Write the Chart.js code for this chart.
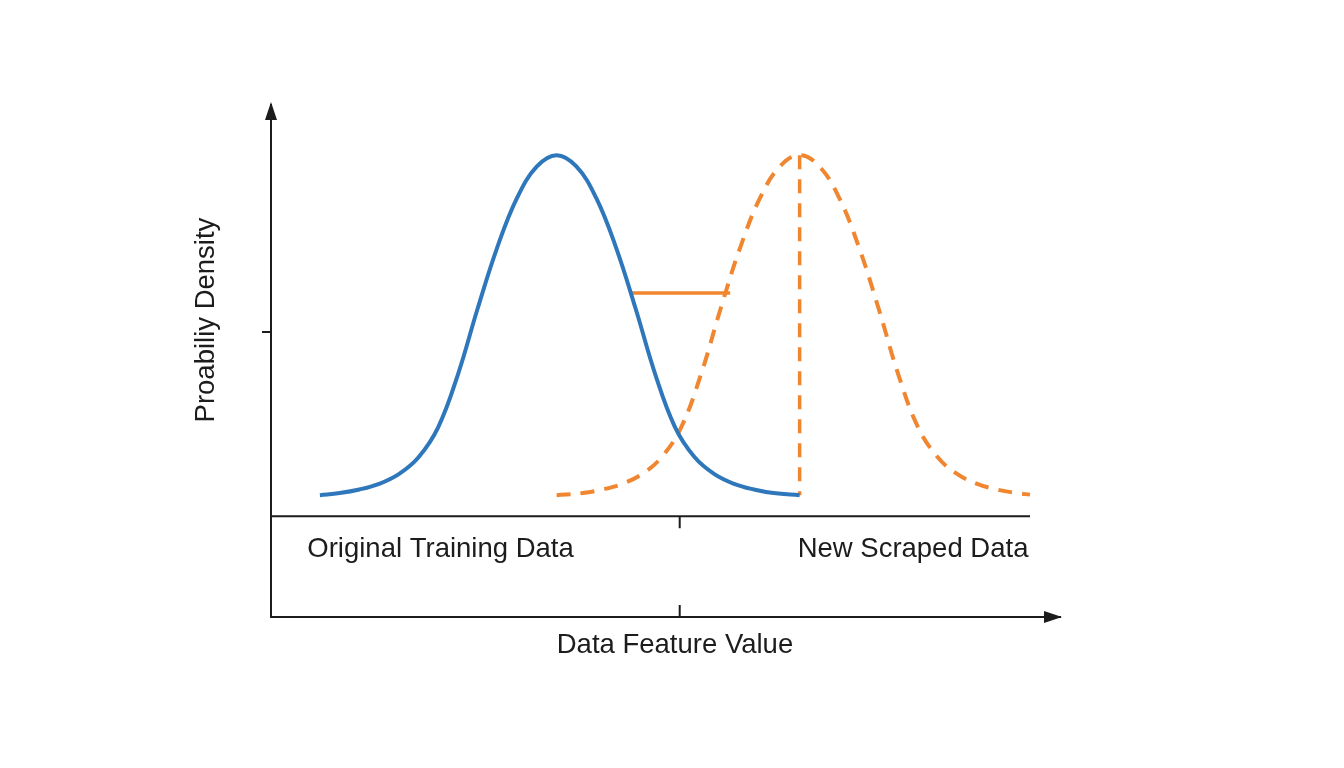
<!DOCTYPE html>
<html>
<head>
<meta charset="utf-8">
<script src="https://cdn.jsdelivr.net/npm/chart.js@4.4.1/dist/chart.umd.min.js"></script>
<style>
html,body{margin:0;padding:0;background:#ffffff;}
canvas{display:block;}
</style>
</head>
<body>
<canvas id="c" width="1344" height="768"></canvas>
<script>
// ---- data ----
const blueX = [6.2, 8.7, 11.2, 13.7, 16.2, 18.7, 21.2, 23.7, 26.2, 28.7, 31.2, 33.7, 36.2, 38.7, 41.2, 43.7, 46.2, 48.7, 51.2, 53.7, 56.2, 58.7, 61.2, 63.7, 67.0];
const blueY = [23.8, 24.2, 24.9, 26.0, 27.9, 31.2, 37.1, 47.4, 60.3, 72.3, 81.9, 88.0, 90.2, 88.0, 81.9, 72.3, 60.3, 47.4, 37.1, 31.2, 27.9, 26.0, 24.9, 24.2, 23.8];
const orangeX = [36.2, 39.5, 42.0, 44.5, 47.0, 49.5, 52.0, 54.5, 57.0, 59.5, 62.0, 64.5, 67.0, 69.5, 72.0, 74.5, 77.0, 79.5, 82.0, 84.5, 87.0, 89.5, 92.0, 94.5, 96.2];
const orangeY = [23.8, 24.2, 24.9, 26.0, 27.9, 31.2, 37.1, 47.4, 60.3, 72.3, 81.9, 88.0, 90.2, 88.0, 81.9, 72.3, 60.3, 47.4, 37.1, 31.2, 27.9, 26.0, 24.9, 24.2, 23.9];
const peakLineX = [67.0, 67.0];
const peakLineY = [90.2, 23.8];
const gapLineX = [45.5, 58.2];
const gapLineY = [63.3, 63.3];
const baselineX = [0, 96.2];
const baselineY = 19.7;
const xTickValue = 51.8;
const yTickValue = 55.7;
const groupLabels = ["Original Training Data", "New Scraped Data"];
const groupLabelX = [4.6, 96.0];
const xTitle = "Data Feature Value";
const xTitleCenter = 51.2;
const yTitle = "Proabiliy Density";
const yTitleCenter = 58.0;

const FONT = "'Liberation Sans', Arial, Helvetica, sans-serif";
const INK = "#1c1c1c";
const BLUE = "#2e77bb";
const ORANGE = "#f0862f";

const pts = (xs, ys) => xs.map((x, i) => ({x: x, y: ys[i]}));

const decor = {
  id: 'decor',
  beforeDraw(chart) {
    const ctx = chart.ctx;
    ctx.save();
    ctx.fillStyle = '#ffffff';
    ctx.fillRect(0, 0, chart.width, chart.height);
    ctx.restore();
  },
  afterDraw(chart) {
    const ctx = chart.ctx;
    const xs = chart.scales.x, ys = chart.scales.y;
    const area = chart.chartArea;
    ctx.save();
    ctx.strokeStyle = INK;
    ctx.fillStyle = INK;
    ctx.lineWidth = 2;
    // inner baseline
    const by = ys.getPixelForValue(baselineY);
    ctx.beginPath();
    ctx.moveTo(xs.getPixelForValue(baselineX[0]), by);
    ctx.lineTo(xs.getPixelForValue(baselineX[1]), by);
    ctx.stroke();
    // x tick marks
    const tx = xs.getPixelForValue(xTickValue);
    ctx.beginPath();
    ctx.moveTo(tx, by); ctx.lineTo(tx, by + 12);
    ctx.moveTo(tx, area.bottom); ctx.lineTo(tx, area.bottom - 12);
    ctx.stroke();
    // arrows
    const ax = area.left;
    ctx.beginPath();
    ctx.moveTo(ax, area.top - 3);
    ctx.lineTo(ax - 6, area.top + 15);
    ctx.lineTo(ax + 6, area.top + 15);
    ctx.closePath();
    ctx.fill();
    const ay = area.bottom;
    ctx.beginPath();
    ctx.moveTo(area.right + 2, ay);
    ctx.lineTo(area.right - 16, ay - 6);
    ctx.lineTo(area.right - 16, ay + 6);
    ctx.closePath();
    ctx.fill();
    // group labels
    ctx.font = "27.5px " + FONT;
    ctx.textBaseline = 'middle';
    ctx.textAlign = 'left';
    ctx.fillText(groupLabels[0], xs.getPixelForValue(groupLabelX[0]), by + 33);
    ctx.textAlign = 'right';
    ctx.fillText(groupLabels[1], xs.getPixelForValue(groupLabelX[1]), by + 33);
    // axis titles
    ctx.textAlign = 'center';
    ctx.fillText(xTitle, xs.getPixelForValue(xTitleCenter), area.bottom + 28);
    ctx.translate(area.left - 65, ys.getPixelForValue(yTitleCenter));
    ctx.rotate(-Math.PI / 2);
    ctx.fillText(yTitle, 0, 0);
    ctx.restore();
  }
};

new Chart(document.getElementById('c'), {
  type: 'line',
  data: {
    datasets: [
      {data: pts(blueX, blueY), borderColor: BLUE, borderWidth: 4, pointRadius: 0, tension: 0.4, fill: false},
      {data: pts(orangeX, orangeY), borderColor: ORANGE, borderWidth: 4, borderDash: [14, 10], pointRadius: 0, tension: 0.4, fill: false},
      {data: pts(peakLineX, peakLineY), borderColor: ORANGE, borderWidth: 3.5, borderDash: [14, 10], pointRadius: 0, fill: false},
      {data: pts(gapLineX, gapLineY), borderColor: ORANGE, borderWidth: 3.5, pointRadius: 0, fill: false}
    ]
  },
  options: {
    responsive: false,
    animation: false,
    layout: {padding: {left: 262, right: 284, top: 105, bottom: 151}},
    plugins: {legend: {display: false}, tooltip: {enabled: false}},
    scales: {
      x: {
        type: 'linear', min: 0, max: 100,
        border: {display: true, color: INK, width: 2},
        grid: {drawOnChartArea: false, drawTicks: false},
        ticks: {display: false},
        title: {display: false}
      },
      y: {
        type: 'linear', min: 0, max: 100,
        border: {display: true, color: INK, width: 2},
        grid: {drawOnChartArea: false, drawTicks: true, tickLength: 9, color: INK, lineWidth: 2},
        ticks: {display: false},
        afterBuildTicks: s => { s.ticks = [{value: yTickValue}]; },
        title: {display: false}
      }
    }
  },
  plugins: [decor]
});
</script>
</body>
</html>
